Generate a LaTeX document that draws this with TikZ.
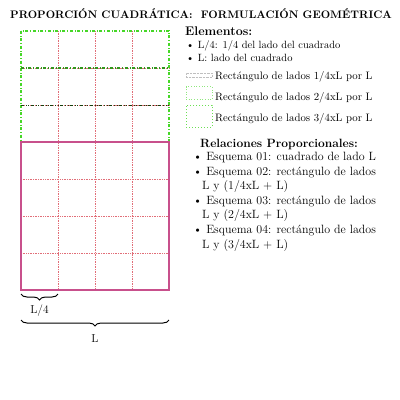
\documentclass[tikz,border=0pt]{standalone}
\usepackage{tikz}
\usetikzlibrary{positioning, decorations.pathreplacing}

\definecolor{lima}{RGB}{70,215,40}
\definecolor{rosa}{RGB}{200,80,140}
\definecolor{puntos}{RGB}{225,110,120}

\tikzset{
    rejilla/.style={draw=puntos, densely dotted, line width=0.7pt},
    cuadrado/.style={draw=rosa, line width=1.4pt},
    franja tres/.style={draw=lima, dash dot, line width=1.9pt},
    franja dos/.style={draw=lima!70!black, dash dot, line width=1.4pt},
    franja uno/.style={draw=black!70!lima, dash dot dot, line width=1pt},
    texto/.style={inner sep=0pt, anchor=base west, font=\fontsize{10.5}{12}\selectfont},
    leyenda/.style={inner sep=0pt, anchor=base west, font=\fontsize{10.8}{13}\selectfont},
    relacion/.style={inner sep=0pt, anchor=north west, align=left, font=\fontsize{12}{14.6}\selectfont},
    llave/.style={decorate, decoration={brace, mirror, amplitude=6pt}, line width=1pt},
    medida/.style={font=\fontsize{11.5}{13}\selectfont}
}

\begin{document}
\begin{tikzpicture}[x=1pt, y=-1pt]
    \useasboundingbox (0,0) rectangle (400,400);
    % Titulo
    \node (titulo) at (201,14) {\fontsize{10.9}{12}\selectfont\bfseries PROPORCIÓN CUADRÁTICA:\ \ FORMULACIÓN GEOMÉTRICA};
    % Rejilla de cuartos
    \foreach \k in {1,2,3}
        \draw [rejilla] (21+37*\k,31) -- (21+37*\k,290);
    \foreach \y in {68,105,179,216,253}
        \draw [rejilla] (21,\y) -- (169,\y);
    % Franjas sobre el cuadrado
    \draw [franja tres] (21,31) rectangle (169,142);
    \draw [franja dos] (21,68) -- (169,68);
    \draw [franja uno] (21,105) -- (169,105);
    % Cuadrado de lado L
    \draw [cuadrado] (21,142) rectangle (169,290);
    % Llaves
    \coordinate (ll1) at (21,294);
    \coordinate (ll2) at (58,294);
    \coordinate (ll3) at (21,320);
    \coordinate (ll4) at (169,320);
    \draw [llave] (ll1) -- (ll2) node (cuarto) [medida, midway, below=7pt] {L/4};
    \draw [llave] (ll3) -- (ll4) node (lado) [medida, midway, below=11pt] {L};
    % Elementos
    \node (elementos) [texto] at (185,35) {\fontsize{12.5}{14}\selectfont\bfseries Elementos:};
    \node (e1) [texto] at (186,48) {\textbullet\ L/4: 1/4 del lado del cuadrado};
    \node (e2) [texto] at (186,61) {\textbullet\ L: lado del cuadrado};
    \node (c1) [draw=gray!50, densely dotted, line width=0.4pt, minimum width=26pt, minimum height=4pt, inner sep=0pt] at (199,75) {};
    \node (c2) [draw=lima!60, dotted, line width=0.7pt, minimum width=26pt, minimum height=13pt, inner sep=0pt] at (199,93) {};
    \node (c3) [draw=lima!80, dotted, line width=1pt, minimum width=26pt, minimum height=22pt, inner sep=0pt] at (199,116) {};
    \node (t1) [leyenda] at (215,79) {Rectángulo de lados 1/4xL por L};
    \node (t2) [leyenda] at (215,100) {Rectángulo de lados 2/4xL por L};
    \node (t3) [leyenda] at (215,121) {Rectángulo de lados 3/4xL por L};
    % Relaciones
    \node (relaciones) [inner sep=0pt, anchor=base west, font=\fontsize{12}{14}\selectfont\bfseries] at (200,147) {Relaciones Proporcionales:};
    \node (r1) [relacion] at (193,152) {\textbullet\ Esquema 01: cuadrado de lado L\\
        \textbullet\ Esquema 02: rectángulo de lados\\
        \hspace*{9pt}L y (1/4xL + L)\\
        \textbullet\ Esquema 03: rectángulo de lados\\
        \hspace*{9pt}L y (2/4xL + L)\\
        \textbullet\ Esquema 04: rectángulo de lados\\
        \hspace*{9pt}L y (3/4xL + L)};
\end{tikzpicture}
\end{document}
